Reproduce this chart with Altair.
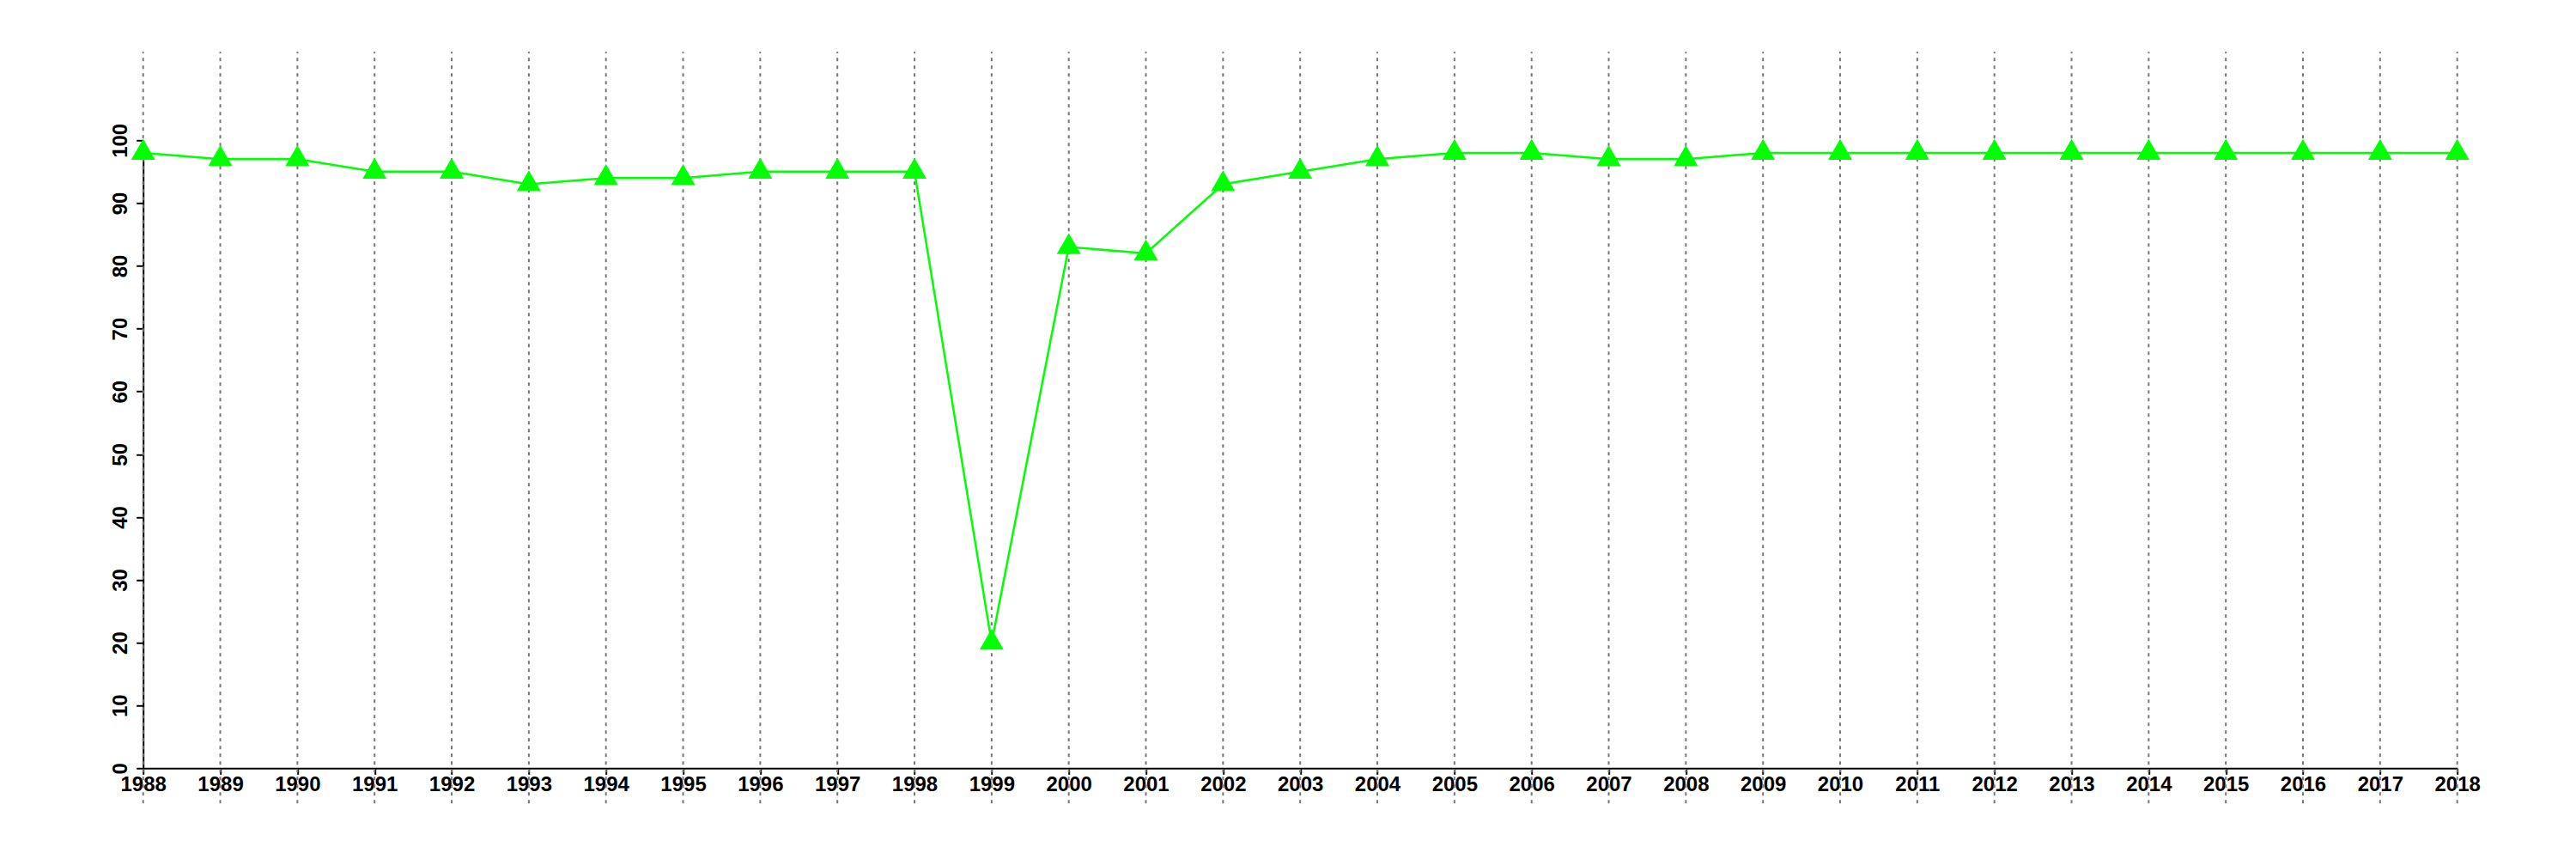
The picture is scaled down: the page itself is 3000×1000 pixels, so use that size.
import altair as alt
import pandas as pd

years = list(range(1988, 2019))
values = [98, 97, 97, 95, 95, 93, 94, 94, 95, 95, 95, 20, 83, 82, 93, 95, 97,
          98, 98, 97, 97, 98, 98, 98, 98, 98, 98, 98, 98, 98, 98]
y_ticks = list(range(0, 101, 10))

df = pd.DataFrame({"year": years, "value": values})
grid_df = pd.DataFrame({"year": years})

FONT = "Liberation Sans"

xscale = alt.Scale(domain=[1988, 2018], nice=False, zero=False)
yscale = alt.Scale(domain=[0, 100], nice=False, zero=True)

xaxis = alt.Axis(values=years, format="d", title=None, grid=False,
                 domainColor="black", domainWidth=2, tickColor="black",
                 tickWidth=2, tickSize=7, labelPadding=0,
                 labelFont=FONT, labelFontSize=24, labelFontWeight="bold",
                 labelColor="black", labelOverlap=False, labelFlush=False)
yaxis = alt.Axis(values=y_ticks, title=None, grid=False,
                 domainColor="black", domainWidth=2, tickColor="black",
                 tickWidth=2, tickSize=8, labelPadding=6, labelAngle=270,
                 labelFont=FONT, labelFontSize=24, labelFontWeight="bold",
                 labelColor="black", labelOverlap=False, labelFlush=False)

grid = alt.Chart(grid_df).mark_rule(
    color="#777777", strokeWidth=2, strokeDash=[4, 5]
).encode(
    x=alt.X("year:Q", scale=xscale, axis=xaxis),
    y=alt.Y(datum=-5.6, scale=yscale, axis=yaxis),
    y2=alt.Y2(datum=114.1),
)

line = alt.Chart(df).mark_line(color="#00FF00", strokeWidth=2.5).encode(
    x=alt.X("year:Q", scale=xscale, axis=xaxis),
    y=alt.Y("value:Q", scale=yscale, axis=yaxis),
)

points = alt.Chart(df).mark_point(
    shape="triangle-up", size=784, filled=True, color="#00FF00", opacity=1,
    yOffset=-4
).encode(
    x=alt.X("year:Q", scale=xscale, axis=xaxis),
    y=alt.Y("value:Q", scale=yscale, axis=yaxis),
)

chart = alt.layer(grid, line, points).properties(
    width=2695, height=731,
    background="white",
    autosize=alt.AutoSizeParams(type="none"),
    padding={"left": 158.7, "top": 155.3, "right": 130, "bottom": 98},
).configure_view(stroke=None, strokeWidth=0).configure_axis(grid=False)

chart.save("out.html", embed_options={"renderer": "svg", "actions": False})
